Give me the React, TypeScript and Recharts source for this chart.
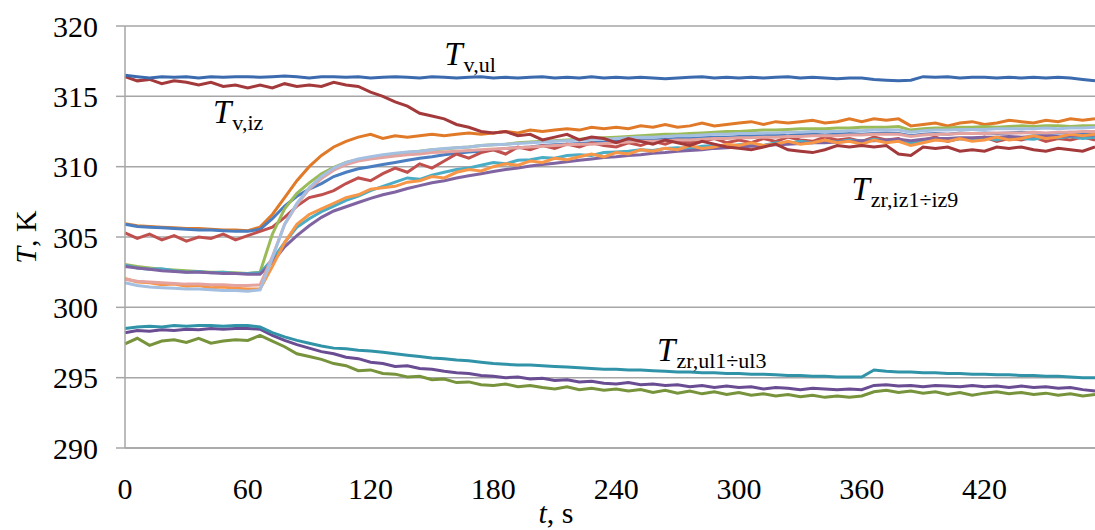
import React from "react";
import {
  LineChart,
  Line,
  XAxis,
  YAxis,
  CartesianGrid,
  ReferenceDot,
} from "recharts";

// time axis, s (one reading every 6 s)
const time = [
  0, 6, 12, 18, 24, 30, 36, 42, 48, 54, 60, 66, 72, 78, 84, 90, 96, 102, 108, 114,
  120, 126, 132, 138, 144, 150, 156, 162, 168, 174, 180, 186, 192, 198, 204, 210, 216, 222, 228, 234,
  240, 246, 252, 258, 264, 270, 276, 282, 288, 294, 300, 306, 312, 318, 324, 330, 336, 342, 348, 354,
  360, 366, 372, 378, 384, 390, 396, 402, 408, 414, 420, 426, 432, 438, 444, 450, 456, 462, 468, 474,
];

// outdoor air
const tVUl = [
  316.5, 316.4, 316.3, 316.4, 316.35, 316.4, 316.3, 316.4, 316.35, 316.4,
  316.4, 316.35, 316.4, 316.45, 316.4, 316.3, 316.4, 316.4, 316.35, 316.4,
  316.3, 316.35, 316.4, 316.35, 316.3, 316.4, 316.35, 316.3, 316.35, 316.4,
  316.3, 316.35, 316.3, 316.35, 316.4, 316.3, 316.35, 316.3, 316.4, 316.3,
  316.35, 316.3, 316.35, 316.3, 316.25, 316.3, 316.35, 316.4, 316.3, 316.35,
  316.3, 316.35, 316.3, 316.35, 316.4, 316.3, 316.35, 316.3, 316.25, 316.3,
  316.3, 316.2, 316.15, 316.1, 316.15, 316.4, 316.35, 316.4, 316.3, 316.35,
  316.35, 316.3, 316.35, 316.3, 316.35, 316.3, 316.35, 316.3, 316.2, 316.1,
];

// air in the test room
const tVIz = [
  316.4, 316.1, 316.2, 315.9, 316.1, 316.0, 315.8, 316.0, 315.7, 315.8,
  315.6, 315.8, 315.6, 315.9, 315.7, 315.8, 315.7, 316.0, 315.8, 315.7,
  315.3, 315.0, 314.6, 314.3, 313.8, 313.6, 313.4, 313.0, 312.8, 312.5,
  312.4, 312.5, 312.2, 312.3, 311.9, 312.1, 312.3, 311.9, 312.1, 312.0,
  311.7, 312.0, 311.8, 311.6, 311.9, 311.7, 311.5, 311.8, 311.6, 311.4,
  311.3, 311.2, 311.4, 311.6, 311.2, 311.1, 311.0, 311.2, 311.5, 311.4,
  311.5, 311.4, 311.5, 310.9, 310.8, 311.4, 311.3, 311.4, 311.1, 311.2,
  311.1, 311.4, 311.3, 311.4, 311.2, 311.1, 311.3, 311.2, 311.1, 311.4,
];

// wall probes iz1..iz9
const iz1 = [
  305.95, 305.8, 305.75, 305.7, 305.65, 305.6, 305.6, 305.55, 305.5, 305.5,
  305.45, 305.7, 306.6, 307.8, 309.0, 310.0, 310.8, 311.4, 311.8, 312.1,
  312.3, 312.0, 312.2, 312.1, 312.2, 312.3, 312.2, 312.3, 312.4, 312.3,
  312.4, 312.5, 312.4, 312.6, 312.5, 312.6, 312.7, 312.6, 312.8, 312.7,
  312.8, 312.7, 312.9, 312.8, 313.0, 312.8, 312.9, 313.1, 312.9, 313.0,
  313.1, 313.2, 313.0, 313.2, 313.1, 313.2, 313.3, 313.1, 313.2, 313.4,
  313.2, 313.4, 313.3, 313.4, 312.9, 313.0, 313.1, 312.9, 313.1, 313.2,
  313.0, 313.1, 313.3, 313.2, 313.1, 313.3, 313.2, 313.4, 313.3, 313.4,
];
const iz2 = [
  305.9, 305.75, 305.7, 305.65, 305.6, 305.55, 305.5, 305.5, 305.45, 305.4,
  305.4, 305.55, 306.3, 307.2, 307.9, 308.4, 308.8, 309.3, 309.6, 309.85,
  310.0, 310.15, 310.3, 310.45, 310.6, 310.7, 310.85, 310.95, 311.05, 311.1,
  311.2, 311.3, 311.35, 311.4, 311.5, 311.55, 311.6, 311.65, 311.7, 311.75,
  311.8, 311.85, 311.9, 311.9, 311.95, 312.0, 312.0, 312.05, 312.1, 312.1,
  312.15, 312.2, 312.2, 312.25, 312.2, 312.3, 312.3, 312.25, 312.3, 312.35,
  312.3, 312.35, 312.4, 312.35, 312.2, 312.3, 312.35, 312.3, 312.4, 312.35,
  312.4, 312.35, 312.4, 312.45, 312.4, 312.35, 312.4, 312.45, 312.4, 312.4,
];
const iz3 = [
  305.3, 304.9, 305.2, 304.8, 305.1, 304.7, 305.0, 304.9, 305.2, 304.8,
  305.1, 305.4, 305.7, 306.4, 307.2, 307.8, 308.0, 308.3, 308.8, 309.2,
  309.0, 309.5, 309.9, 309.6, 310.2, 309.9, 310.4, 310.9, 310.6, 311.0,
  311.2, 310.9, 311.4, 311.2, 311.5, 311.3, 311.6, 311.4, 311.7, 311.5,
  311.4, 311.7, 311.5, 311.8, 311.6, 311.9, 311.7, 311.8, 312.0, 311.7,
  311.9, 311.7, 312.0, 311.8, 312.1, 311.9, 311.8, 312.1, 311.9, 312.0,
  311.8, 312.1, 311.9, 312.0, 311.6, 311.9, 312.1, 311.8, 312.0, 311.9,
  312.1, 311.8, 312.0, 311.9, 312.1, 311.8, 312.0, 311.9, 312.1, 311.9,
];
const iz4 = [
  303.05, 302.9, 302.8, 302.7, 302.65, 302.6, 302.55, 302.5, 302.5, 302.45,
  302.4, 302.5, 305.2, 307.0, 308.1, 308.85, 309.5, 309.95, 310.3, 310.5,
  310.65, 310.8, 310.9, 311.0, 311.1, 311.2, 311.25, 311.35, 311.4, 311.5,
  311.55, 311.6, 311.7, 311.75, 311.8, 311.85, 311.9, 311.95, 312.0, 312.05,
  312.1, 312.15, 312.2, 312.25, 312.3, 312.3, 312.35, 312.4, 312.45, 312.5,
  312.5, 312.55, 312.6, 312.6, 312.65, 312.7, 312.7, 312.7, 312.75, 312.75,
  312.8, 312.8, 312.8, 312.85, 312.6, 312.7, 312.75, 312.75, 312.8, 312.8,
  312.85, 312.8, 312.85, 312.9, 312.85, 312.9, 312.9, 312.85, 312.9, 312.9,
];
const iz5 = [
  303.0, 302.8, 302.7, 302.75, 302.6, 302.5, 302.55, 302.45, 302.5, 302.4,
  302.4, 302.45, 303.4, 304.6, 305.7, 306.3, 306.8, 307.2, 307.6, 307.9,
  308.3, 308.6, 308.9, 309.2, 309.1, 309.4, 309.6, 309.8, 309.9, 310.1,
  310.3, 310.2, 310.45, 310.5, 310.65, 310.6, 310.8, 310.85, 310.8, 311.0,
  311.05, 311.1, 311.2, 311.15, 311.3, 311.35, 311.3, 311.45, 311.5, 311.4,
  311.55, 311.6, 311.5, 311.7, 311.65, 311.8, 311.7, 311.85, 311.75, 311.9,
  311.8, 311.95, 311.85, 311.9, 311.7, 311.9, 312.0, 311.85, 312.0, 311.95,
  312.05, 311.9, 312.1, 312.0, 311.95, 312.1, 312.05, 312.15, 312.0, 312.1,
];
const iz6 = [
  302.9, 302.8, 302.7, 302.6, 302.55, 302.5, 302.5, 302.45, 302.4, 302.4,
  302.35, 302.35, 303.2, 304.3, 305.1, 305.8, 306.4, 306.85, 307.15, 307.45,
  307.75, 308.0, 308.2, 308.45, 308.65, 308.85, 309.0, 309.2, 309.35, 309.5,
  309.65, 309.8, 309.9, 310.05, 310.15, 310.25, 310.35, 310.45, 310.55, 310.65,
  310.7, 310.8, 310.85, 310.95, 311.0, 311.1, 311.15, 311.2, 311.3, 311.35,
  311.4, 311.45, 311.5, 311.55, 311.6, 311.65, 311.7, 311.7, 311.75, 311.8,
  311.85, 311.85, 311.9, 311.95, 311.85, 311.95, 312.0, 312.0, 312.05, 312.05,
  312.1, 312.1, 312.15, 312.1, 312.15, 312.2, 312.15, 312.2, 312.2, 312.25,
];
const iz7 = [
  302.05, 301.8, 301.75, 301.6, 301.65, 301.5, 301.55, 301.4, 301.45, 301.35,
  301.3, 301.3, 302.9, 304.6, 305.9, 306.6, 307.0, 307.4, 307.8, 308.0,
  308.4, 308.5, 308.6, 308.9, 309.0, 309.3, 309.2, 309.6, 309.8, 309.7,
  310.0, 310.2, 310.1, 310.4, 310.3, 310.6, 310.5, 310.7, 310.9, 310.7,
  311.0, 310.9, 311.2, 311.1, 311.3, 311.2, 311.5, 311.3, 311.4, 311.6,
  311.5, 311.7, 311.5, 311.6, 311.8, 311.6, 311.7, 311.9, 311.7, 311.8,
  311.6, 311.9, 311.7, 311.8, 311.5, 311.7, 311.9, 311.8, 312.0, 311.8,
  311.9, 312.1, 311.9, 312.0, 312.2, 312.0, 312.1, 312.3, 312.2, 312.3,
];
const iz8 = [
  302.0, 301.85, 301.8, 301.75, 301.7, 301.65, 301.65, 301.6, 301.6, 301.55,
  301.55, 301.6, 303.6, 305.9, 307.3, 308.4, 309.15, 309.75, 310.15, 310.4,
  310.55, 310.65, 310.75, 310.85, 310.9, 311.0, 311.05, 311.1, 311.15, 311.2,
  311.25, 311.3, 311.35, 311.4, 311.45, 311.5, 311.55, 311.6, 311.6, 311.65,
  311.7, 311.75, 311.8, 311.8, 311.85, 311.9, 311.9, 311.95, 312.0, 312.0,
  312.05, 312.05, 312.1, 312.1, 312.15, 312.15, 312.2, 312.2, 312.2, 312.25,
  312.25, 312.3, 312.3, 312.3, 312.15, 312.25, 312.3, 312.3, 312.35, 312.35,
  312.35, 312.4, 312.4, 312.4, 312.45, 312.4, 312.45, 312.45, 312.5, 312.5,
];
const iz9 = [
  301.75, 301.55, 301.45, 301.4, 301.35, 301.3, 301.3, 301.25, 301.2, 301.2,
  301.15, 301.25, 303.5, 305.9, 307.4, 308.5, 309.3, 309.9, 310.3, 310.55,
  310.7, 310.85, 310.95, 311.05, 311.1, 311.2, 311.3, 311.35, 311.4, 311.5,
  311.55, 311.6, 311.65, 311.7, 311.75, 311.8, 311.85, 311.9, 311.95, 311.95,
  312.0, 312.05, 312.1, 312.1, 312.15, 312.2, 312.2, 312.25, 312.3, 312.3,
  312.35, 312.35, 312.4, 312.4, 312.45, 312.45, 312.5, 312.5, 312.5, 312.55,
  312.55, 312.6, 312.6, 312.6, 312.45, 312.55, 312.6, 312.6, 312.65, 312.65,
  312.65, 312.7, 312.7, 312.7, 312.7, 312.75, 312.7, 312.75, 312.75, 312.8,
];

// wall probes ul1..ul3
const ul1 = [
  298.5, 298.6, 298.65, 298.6, 298.7, 298.65, 298.7, 298.7, 298.65, 298.7,
  298.7, 298.6, 298.2, 297.9, 297.65, 297.45, 297.25, 297.1, 297.05, 296.95,
  296.9, 296.8, 296.7, 296.6, 296.5, 296.4, 296.35, 296.25, 296.2, 296.1,
  296.0, 295.95, 295.9, 295.9, 295.85, 295.8, 295.75, 295.7, 295.65, 295.6,
  295.6, 295.55, 295.55, 295.5, 295.45, 295.4, 295.4, 295.35, 295.35, 295.3,
  295.3, 295.25, 295.25, 295.2, 295.15, 295.15, 295.1, 295.1, 295.05, 295.05,
  295.05, 295.55, 295.45, 295.4, 295.4, 295.35, 295.35, 295.3, 295.3, 295.25,
  295.25, 295.2, 295.2, 295.15, 295.15, 295.1, 295.1, 295.05, 295.0, 295.0,
];
const ul2 = [
  298.2, 298.35, 298.3, 298.4, 298.35, 298.45, 298.4, 298.5, 298.45, 298.5,
  298.5, 298.45, 298.0, 297.65, 297.35, 297.1, 296.85, 296.7, 296.45, 296.35,
  296.1, 296.0, 295.8, 295.85, 295.65, 295.6, 295.45, 295.35, 295.3, 295.15,
  295.1, 295.0, 295.05, 294.9, 294.95, 294.8, 294.85, 294.7, 294.75, 294.6,
  294.55, 294.65, 294.5, 294.55, 294.45, 294.5, 294.35, 294.45, 294.3, 294.4,
  294.3, 294.35, 294.2, 294.3, 294.25, 294.15, 294.25, 294.2, 294.15, 294.2,
  294.15, 294.45, 294.5, 294.4, 294.45, 294.35, 294.45, 294.4, 294.35, 294.45,
  294.35, 294.4, 294.3, 294.4, 294.3, 294.35, 294.25, 294.3, 294.15, 294.05,
];
const ul3 = [
  297.4, 297.8, 297.3, 297.6, 297.7, 297.5, 297.8, 297.45, 297.6, 297.7,
  297.65, 298.0, 297.6, 297.2, 296.7, 296.5, 296.3, 296.0, 295.85, 295.5,
  295.55, 295.3, 295.25, 295.05, 295.1, 294.85, 294.9, 294.65, 294.7, 294.5,
  294.45, 294.55, 294.35, 294.45, 294.3, 294.2, 294.35, 294.15, 294.25, 294.1,
  294.2, 294.05, 294.15, 293.95, 294.1, 293.9, 294.05, 293.85, 294.0, 293.8,
  293.95, 293.75, 293.85, 293.7, 293.8, 293.65, 293.75, 293.6, 293.7, 293.6,
  293.7, 294.0, 294.1, 293.95, 294.05, 293.9, 294.0, 293.8, 293.95, 293.75,
  293.9, 294.0, 293.85, 293.95, 293.8, 293.9, 293.75, 293.85, 293.7, 293.8,
];

const xTicks = [0, 60, 120, 180, 240, 300, 360, 420];
const yTicks = [290, 295, 300, 305, 310, 315, 320];

const series = [
  { key: "iz1", values: iz1, color: "#E07A28" },
  { key: "iz2", values: iz2, color: "#4A7EC0" },
  { key: "iz3", values: iz3, color: "#C0504D" },
  { key: "iz4", values: iz4, color: "#9BBB59" },
  { key: "iz5", values: iz5, color: "#4BACC6" },
  { key: "iz6", values: iz6, color: "#8064A2" },
  { key: "iz7", values: iz7, color: "#F79646" },
  { key: "iz8", values: iz8, color: "#E5A3A0" },
  { key: "iz9", values: iz9, color: "#A5BFE0" },
  { key: "vIz", values: tVIz, color: "#A3393A" },
  { key: "vUl", values: tVUl, color: "#3B6BAE" },
  { key: "ul3", values: ul3, color: "#77933C" },
  { key: "ul2", values: ul2, color: "#6A4C93" },
  { key: "ul1", values: ul1, color: "#3193A8" },
];

const data = time.map((t, i) => {
  const row: Record<string, number> = { t };
  series.forEach((s) => (row[s.key] = s.values[i]));
  return row;
});

const FONT = "'Liberation Serif', 'Times New Roman', serif";

function Ann({ viewBox, main, sub }: any) {
  const { x, y } = viewBox || { x: 0, y: 0 };
  return (
    <text x={x} y={y} fill="#000" style={{ fontFamily: FONT }}>
      <tspan fontStyle="italic" fontSize={33}>{main}</tspan>
      <tspan fontSize={22} dy={7} dx={1}>{sub}</tspan>
    </text>
  );
}

function YLabel() {
  return (
    <text x={36} y={237} transform="rotate(-90 36 237)" textAnchor="middle" fontSize={30} fill="#000" style={{ fontFamily: FONT }}>
      <tspan fontStyle="italic">T</tspan>
      <tspan>, K</tspan>
    </text>
  );
}

function XLabel() {
  return (
    <text x={556} y={523} textAnchor="middle" fontSize={30} fill="#000" style={{ fontFamily: FONT }}>
      <tspan fontStyle="italic">t</tspan>
      <tspan>, s</tspan>
    </text>
  );
}

const tickStyle = { fontSize: 30, fill: "#000", fontFamily: FONT, style: { fontFamily: FONT } };

export default function App() {
  return (
    <div style={{ position: "absolute", left: 0, top: 0, width: 1095, height: 530, background: "#fff", fontFamily: FONT }}>
      <LineChart width={1095} height={530} data={data} margin={{ top: 26, right: 0, left: 0, bottom: 0 }} style={{ fontFamily: FONT }}>
        <CartesianGrid horizontal vertical={false} stroke="#A6A6A6" strokeWidth={1.5} />
        <XAxis
          dataKey="t"
          type="number"
          domain={[0, 474]}
          ticks={xTicks}
          height={82}
          tickSize={0}
          tickMargin={30}
          axisLine={{ stroke: "#A6A6A6", strokeWidth: 1.5 }}
          tick={tickStyle}
          label={<XLabel />}
        />
        <YAxis
          type="number"
          domain={[290, 320]}
          ticks={yTicks}
          width={125}
          tickSize={9}
          tickMargin={18}
          axisLine={{ stroke: "#A6A6A6", strokeWidth: 1.5 }}
          tickLine={{ stroke: "#A6A6A6", strokeWidth: 1.5 }}
          tick={tickStyle}
          label={<YLabel />}
        />
        {series.map((s) => (
          <Line
            key={s.key}
            dataKey={s.key}
            type="linear"
            stroke={s.color}
            strokeWidth={3}
            dot={false}
            activeDot={false}
            isAnimationActive={false}
          />
        ))}
        <ReferenceDot x={156} y={317.2} r={0} fill="none" stroke="none" label={<Ann main="T" sub="v,ul" />} />
        <ReferenceDot x={43} y={313.1} r={0} fill="none" stroke="none" label={<Ann main="T" sub="v,iz" />} />
        <ReferenceDot x={355} y={307.65} r={0} fill="none" stroke="none" label={<Ann main="T" sub="zr,iz1÷iz9" />} />
        <ReferenceDot x={260} y={296.15} r={0} fill="none" stroke="none" label={<Ann main="T" sub="zr,ul1÷ul3" />} />
      </LineChart>
    </div>
  );
}
